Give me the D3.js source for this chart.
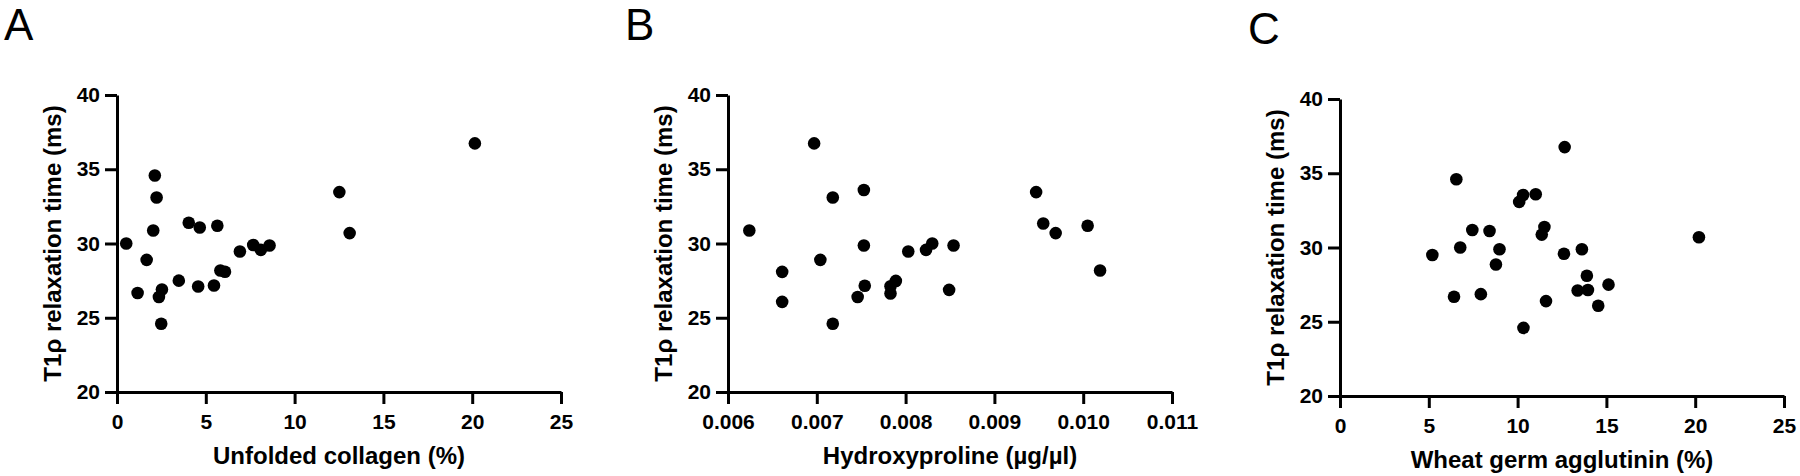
<!DOCTYPE html>
<html>
<head>
<meta charset="utf-8">
<script src="https://cdn.jsdelivr.net/npm/d3@7"></script>
<style>
  body { margin: 0; background: #fff; }
  text { font-family: "Liberation Sans", Arial, sans-serif; }
</style>
</head>
<body>
<div id="chart"></div>
<script>
// panel A - unfolded collagen vs T1rho
var collagenA = [0.52, 1.16, 1.67, 2.04, 2.13, 2.23, 2.36, 2.53, 2.49, 3.48, 4.04, 4.57,
  4.66, 5.46, 5.65, 5.82, 6.08, 6.92, 7.67, 8.10, 8.59, 12.52, 13.10, 20.15];
var t1rhoA = [30.0, 26.67, 28.9, 30.88, 34.58, 33.1, 26.4, 26.9, 24.6, 27.5, 31.4, 27.1,
  31.08, 27.17, 31.2, 28.18, 28.1, 29.46, 29.9, 29.57, 29.87, 33.46, 30.7, 36.74];

// panel B - hydroxyproline vs T1rho
var hypB = [0.00624, 0.00661, 0.00661, 0.00697, 0.00704, 0.00718, 0.00718, 0.00746, 0.00753,
  0.00753, 0.00754, 0.00783, 0.00783, 0.00789, 0.00803, 0.00823, 0.00830, 0.00854, 0.00849,
  0.00947, 0.00955, 0.00969, 0.01005, 0.01019];
var t1rhoB = [30.88, 28.09, 26.07, 36.74, 28.9, 33.1, 24.6, 26.4, 33.6, 29.87, 27.15, 27.12,
  26.63, 27.48, 29.46, 29.57, 30.0, 29.87, 26.88, 33.46, 31.35, 30.7, 31.2, 28.18];

// panel C - wheat germ agglutinin vs T1rho
var wgaC = [5.2, 6.42, 6.55, 6.77, 7.45, 7.93, 8.42, 8.98, 8.78, 10.09, 10.31, 10.33, 11.02,
  11.36, 11.51, 11.6, 12.61, 12.65, 13.62, 13.38, 13.9, 13.96, 14.54, 15.12, 20.21];
var t1rhoC = [29.49, 26.68, 34.6, 30.0, 31.18, 26.86, 31.11, 29.88, 28.86, 33.07, 33.54, 24.59,
  33.59, 30.87, 31.38, 26.39, 29.58, 36.76, 29.88, 27.1, 28.1, 27.14, 26.08, 27.5, 30.69];

// tick labels
var yTicks = [20, 25, 30, 35, 40];
var xTicksA = [0, 5, 10, 15, 20, 25];
var xTicksB = [0.006, 0.007, 0.008, 0.009, 0.010, 0.011];
var xTicksC = [0, 5, 10, 15, 20, 25];

var yTitle = "T1\u03c1 relaxation time (ms)";

var svg = d3.select("#chart")
  .append("svg")
  .attr("width", 1800)
  .attr("height", 476);

function styleAxis(axisG) {
  axisG.attr("font-family", "'Liberation Sans', Arial, sans-serif")
    .attr("font-size", 21)
    .attr("font-weight", "bold");
  axisG.select(".domain").attr("stroke", "#000").attr("stroke-width", 3);
  axisG.selectAll(".tick line").attr("stroke", "#000").attr("stroke-width", 3);
  axisG.selectAll(".tick text").attr("fill", "#000");
}

function drawPanel(p) {
  var x = d3.scaleLinear().domain(p.xDomain).range([p.left, p.right]);
  var y = d3.scaleLinear().domain([20, 40]).range([p.bottom, p.top]);

  // panel letter
  svg.append("text")
    .attr("x", p.letterX)
    .attr("y", p.top - 55)
    .attr("font-size", 44)
    .attr("fill", "#000")
    .text(p.letter);

  // x axis
  var xAxis = svg.append("g")
    .attr("transform", `translate(0, ${p.bottom})`)
    .call(d3.axisBottom(x).tickValues(p.xTicks).tickFormat(p.fmt)
      .tickSize(12).tickSizeOuter(0).tickPadding(10));
  styleAxis(xAxis);

  // y axis
  var yAxis = svg.append("g")
    .attr("transform", `translate(${p.left}, 0)`)
    .call(d3.axisLeft(y).tickValues(yTicks).tickFormat(d3.format("d"))
      .tickSize(12).tickSizeOuter(0).tickPadding(5));
  styleAxis(yAxis);

  // points
  svg.append("g")
    .selectAll("circle")
    .data(p.xs)
    .enter()
    .append("circle")
    .attr("cx", d => x(d))
    .attr("cy", (d, i) => y(p.ys[i]))
    .attr("r", 6.3)
    .attr("fill", "#000");

  // axis titles
  svg.append("text")
    .attr("x", (p.left + p.right) / 2)
    .attr("y", p.bottom + 72)
    .attr("text-anchor", "middle")
    .attr("font-size", 24)
    .attr("font-weight", "bold")
    .attr("fill", "#000")
    .text(p.xTitle);

  svg.append("text")
    .attr("transform", "rotate(-90)")
    .attr("x", -(p.top + p.bottom) / 2)
    .attr("y", p.left - 56)
    .attr("text-anchor", "middle")
    .attr("font-size", 24)
    .attr("font-weight", "bold")
    .attr("fill", "#000")
    .text(yTitle);
}

drawPanel({
  letter: "A", letterX: 4,
  left: 117, right: 561, top: 95, bottom: 392,
  xDomain: [0, 25], xTicks: xTicksA, fmt: d3.format("d"),
  xs: collagenA, ys: t1rhoA,
  xTitle: "Unfolded collagen (%)"
});

drawPanel({
  letter: "B", letterX: 625,
  left: 728, right: 1172, top: 95, bottom: 392,
  xDomain: [0.006, 0.011], xTicks: xTicksB, fmt: d3.format(".3f"),
  xs: hypB, ys: t1rhoB,
  xTitle: "Hydroxyproline (\u00b5g/\u00b5l)"
});

drawPanel({
  letter: "C", letterX: 1248,
  left: 1340, right: 1784, top: 99, bottom: 396,
  xDomain: [0, 25], xTicks: xTicksC, fmt: d3.format("d"),
  xs: wgaC, ys: t1rhoC,
  xTitle: "Wheat germ agglutinin (%)"
});
</script>
</body>
</html>
